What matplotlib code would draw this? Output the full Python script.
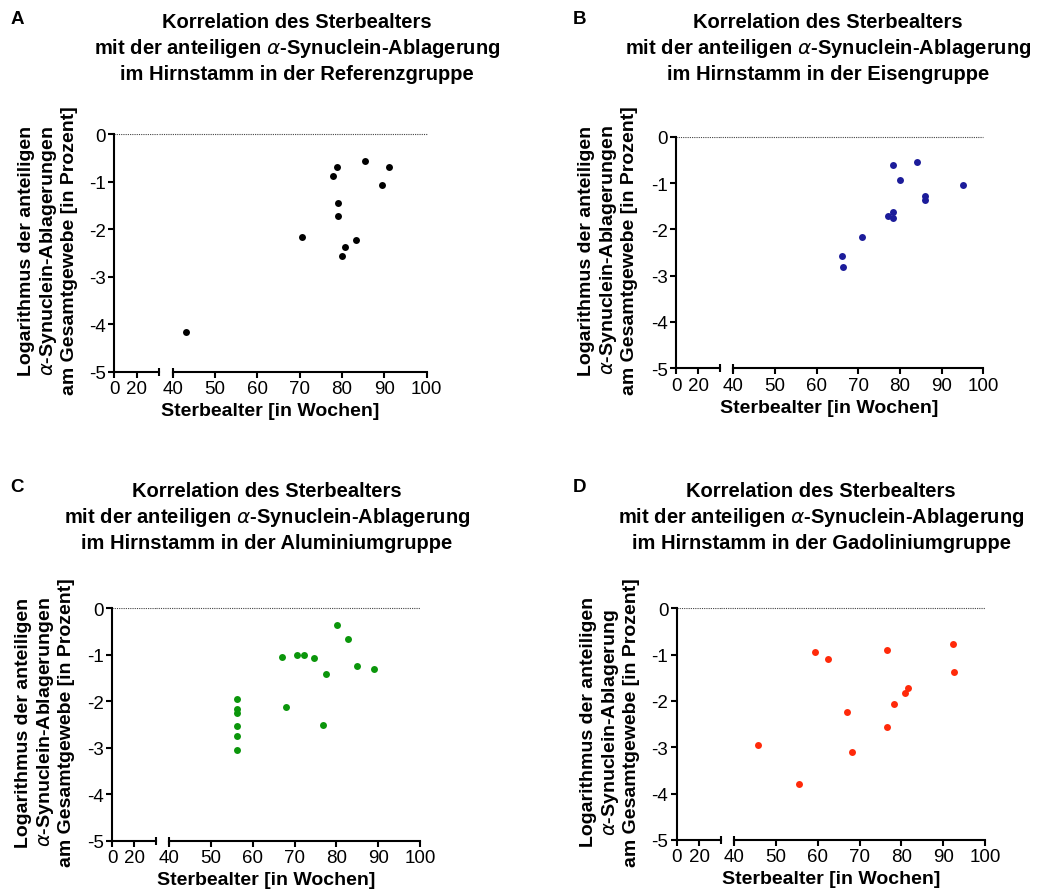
import matplotlib

matplotlib.use("Agg")
import matplotlib.pyplot as plt

plt.rcParams["font.family"] = ["Liberation Sans", "DejaVu Sans"]
plt.rcParams["axes.unicode_minus"] = False

W, H = 1048, 895

# values (x = Sterbealter in Wochen, y = log of the share)
ref_age = [43.1, 70.5, 77.9, 78.7, 79.0, 79.0, 80.0, 80.6, 83.4, 85.4, 89.4, 91.0]
ref_log = [-4.16, -2.16, -0.89, -0.70, -1.46, -1.72, -2.57, -2.37, -2.24, -0.57, -1.07, -0.70]

fe_age = [66.1, 66.4, 71.0, 77.2, 78.4, 78.4, 78.4, 80.1, 84.0, 85.9, 85.9, 95.1]
fe_log = [-2.58, -2.81, -2.17, -1.71, -1.62, -1.76, -0.62, -0.94, -0.54, -1.27, -1.37, -1.04]

al_age = [56.3, 56.3, 56.3, 56.3, 56.3, 56.3, 67.0, 67.9, 70.5, 72.2, 74.6, 77.4, 76.8,
          80.1, 82.8, 84.9, 89.1]
al_log = [-1.95, -2.17, -2.25, -2.54, -2.75, -3.04, -1.04, -2.12, -1.00, -1.00, -1.08, -1.41,
          -2.52, -0.36, -0.65, -1.25, -1.30]

gd_age = [45.8, 55.5, 59.4, 62.4, 66.9, 68.2, 76.5, 76.6, 78.3, 80.9, 81.5, 92.3, 92.7]
gd_log = [-2.94, -3.80, -0.94, -1.10, -2.24, -3.11, -2.56, -0.90, -2.07, -1.83, -1.71, -0.76, -1.37]

letters = ["A", "B", "C", "D"]
groups = ["Referenzgruppe", "Eisengruppe", "Aluminiumgruppe", "Gadoliniumgruppe"]
ages = [ref_age, fe_age, al_age, gd_age]
logs = [ref_log, fe_log, al_log, gd_log]
colors = ["#000000", "#1c1c9a", "#0b960b", "#ff2a0a"]
ylabel_last = ["Ablagerungen", "Ablagerungen", "Ablagerungen", "Ablagerung"]

y_ticks = [0, -1, -2, -3, -4, -5]
x_ticks_low = [0, 20]
x_ticks_high = [40, 50, 60, 70, 80, 90, 100]
LOW_MAX = 39.5

# pixel layout per panel: y-axis x, break end, x=40, x=100, y=0 row, y=-5 row,
# title centre x, title top row, ylabel centre x, letter x
layout = [
    dict(x0=114.3, xb=159, x40=172.7, x100=426.7, yt=135, yb=372.7, tx=297, ty=22, lx=48, px=17),
    dict(x0=676, xb=720, x40=733.3, x100=983.3, yt=137.7, yb=369.3, tx=828, ty=22, lx=608, px=580),
    dict(x0=112, xb=156, x40=169.3, x100=420, yt=609.3, yb=841.7, tx=267, ty=491, lx=45, px=17),
    dict(x0=676.7, xb=721, x40=734, x100=985, yt=609.3, yb=841, tx=821, ty=491, lx=610, px=580),
]

fig = plt.figure(figsize=(W / 100, H / 100), dpi=100, facecolor="white")


def px_axes(x_left, x_right, y_top, y_bot):
    return fig.add_axes([x_left / W, 1 - y_bot / H, (x_right - x_left) / W, (y_bot - y_top) / H])


def fx(x):
    return x / W


def fy(y):
    return 1 - y / H


for i in range(4):
    g = layout[i]
    ax1 = px_axes(g["x0"], g["xb"], g["yt"], g["yb"])
    ax2 = px_axes(g["x40"], g["x100"], g["yt"], g["yb"])

    for ax in (ax1, ax2):
        ax.set_ylim(-5, 0)
        ax.patch.set_alpha(0)
        for s in ("top", "right"):
            ax.spines[s].set_visible(False)
        for s in ("left", "bottom"):
            ax.spines[s].set_linewidth(1.5)
        ax.tick_params(direction="out", length=4.5, width=1.5, labelsize=13.5, pad=1.5, colors="black")

    ax1.set_xlim(0, LOW_MAX)
    ax1.set_xticks(x_ticks_low)
    ax1.set_yticks(y_ticks)
    ax1.set_yticklabels([str(t) for t in y_ticks])
    ax2.set_xlim(40, 100)
    ax2.set_xticks(x_ticks_high)
    ax2.spines["left"].set_visible(False)
    ax2.set_yticks([])

    # dotted zero line runs across the break
    gap = (g["x40"] - g["xb"]) / (g["x100"] - g["x40"])
    ax1.axhline(0, color="#444444", lw=0.8, ls=(0, (1, 1)), zorder=1)
    ax2.axhline(0, xmin=-gap, xmax=1, color="#444444", lw=0.8, ls=(0, (1, 1)), zorder=1, clip_on=False)

    # break caps
    ax1.plot([LOW_MAX], [-5], marker="|", ms=5.5, mew=1.5, color="black", clip_on=False)
    ax2.plot([40], [-5], marker="|", ms=5.5, mew=1.5, color="black", clip_on=False)

    lo = [(a, v) for a, v in zip(ages[i], logs[i]) if a < 40]
    hi = [(a, v) for a, v in zip(ages[i], logs[i]) if a >= 40]
    if lo:
        ax1.plot([a for a, _ in lo], [v for _, v in lo], "o", ms=5, color=colors[i], mew=0, clip_on=False, zorder=3)
    ax2.plot([a for a, _ in hi], [v for _, v in hi], "o", ms=5, color=colors[i], mew=0, clip_on=False, zorder=3)

    # texts
    fig.text(fx(g["px"]), fy(g["ty"] - 3), letters[i], fontsize=13.5, fontweight="bold", ha="center", va="center")
    title = ("Korrelation des Sterbealters\n"
             "mit der anteiligen $\\alpha$-Synuclein-Ablagerung\n"
             f"im Hirnstamm in der {groups[i]}")
    fig.text(fx(g["tx"]), fy(g["ty"] - 9), title, fontsize=14.5, fontweight="bold",
             ha="center", va="top", linespacing=1.3)
    ylabel = ("Logarithmus der anteiligen\n"
              f"$\\alpha$-Synuclein-{ylabel_last[i]}\n"
              "am Gesamtgewebe [in Prozent]")
    fig.text(fx(g["lx"]), fy((g["yt"] + g["yb"]) / 2 - 3), ylabel, fontsize=14, fontweight="bold",
             rotation=90, ha="center", va="center", linespacing=1.15)
    fig.text(fx((g["x0"] + g["x100"]) / 2), fy(g["yb"] + 39), "Sterbealter [in Wochen]",
             fontsize=14, fontweight="bold", ha="center", va="center")

fig.savefig("out.png", dpi=100, facecolor="white")
